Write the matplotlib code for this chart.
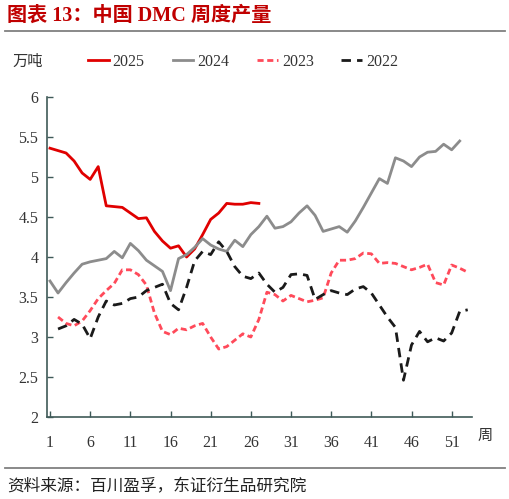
import matplotlib
matplotlib.use("Agg")
import matplotlib.pyplot as plt
from matplotlib.lines import Line2D

plt.rcParams['font.family'] = ['Liberation Serif', 'Noto Sans CJK SC', 'DejaVu Sans']

# 周度产量（万吨），按周序号
weeks_2025 = list(range(1, 28))
dmc_2025 = [5.36, 5.33, 5.30, 5.20, 5.05, 4.97, 5.13, 4.64, 4.63, 4.62,
            4.55, 4.48, 4.49, 4.32, 4.20, 4.11, 4.14, 4.00, 4.10, 4.28,
            4.47, 4.55, 4.67, 4.66, 4.66, 4.68, 4.67]

weeks_2024 = list(range(1, 53))
dmc_2024 = [3.70, 3.55, 3.68, 3.80, 3.91, 3.94, 3.96, 3.98, 4.07, 3.99,
            4.17, 4.08, 3.96, 3.89, 3.82, 3.58, 3.98, 4.03, 4.12, 4.23,
            4.15, 4.10, 4.07, 4.21, 4.13, 4.28, 4.38, 4.51, 4.36, 4.38,
            4.44, 4.55, 4.64, 4.52, 4.32, 4.35, 4.38, 4.31, 4.45, 4.62,
            4.80, 4.98, 4.92, 5.24, 5.20, 5.13, 5.25, 5.31, 5.32, 5.41,
            5.34, 5.45]

weeks_2023 = list(range(2, 54))
dmc_2023 = [3.25, 3.17, 3.14, 3.20, 3.33, 3.48, 3.58, 3.67, 3.84, 3.84,
            3.78, 3.65, 3.30, 3.07, 3.03, 3.11, 3.09, 3.14, 3.17, 3.00,
            2.85, 2.88, 2.96, 3.04, 3.00, 3.22, 3.56, 3.53, 3.45, 3.52,
            3.48, 3.44, 3.46, 3.49, 3.80, 3.96, 3.96, 3.98, 4.05, 4.04,
            3.92, 3.93, 3.92, 3.88, 3.84, 3.87, 3.91, 3.68, 3.65, 3.90,
            3.86, 3.81]

weeks_2022 = list(range(2, 54))
dmc_2022 = [3.10, 3.14, 3.22, 3.16, 2.98, 3.25, 3.45, 3.40, 3.42, 3.48,
            3.50, 3.58, 3.62, 3.66, 3.42, 3.34, 3.62, 3.95, 4.07, 4.03,
            4.19, 4.07, 3.88, 3.76, 3.73, 3.80, 3.66, 3.56, 3.62, 3.78,
            3.79, 3.77, 3.47, 3.53, 3.58, 3.55, 3.53, 3.60, 3.63, 3.55,
            3.40, 3.25, 3.12, 2.46, 2.90, 3.07, 2.94, 2.99, 2.95, 3.05,
            3.32, 3.34]

x_ticks = list(range(1, 52, 5))
y_ticks = [2, 2.5, 3, 3.5, 4, 4.5, 5, 5.5, 6]
y_labels = ['2', '2.5', '3', '3.5', '4', '4.5', '5', '5.5', '6']

axis_col = '#3f5a58'
text_col = '#333333'

fig = plt.figure(figsize=(5.10, 4.99), dpi=100)
ax = fig.add_axes([0.0916, 0.1643, 0.8334, 0.6413])

ax.plot(weeks_2025, dmc_2025, color='#e00000', lw=2.0, label='2025')
ax.plot(weeks_2024, dmc_2024, color='#8c8c8c', lw=2.0, label='2024')
ax.plot(weeks_2023, dmc_2023, color='#ff4a5a', lw=2.0, ls=(0, (2.2, 1.3)), label='2023')
ax.plot(weeks_2022, dmc_2022, color='#1a1a1a', lw=2.0, ls=(0, (3.4, 2.2)), label='2022')

ax.set_xlim(0.59, 53.5)
ax.set_ylim(2, 6)
ax.set_xticks(x_ticks)
ax.set_yticks(y_ticks)
ax.set_yticklabels(y_labels)
for s in ['top', 'right']:
    ax.spines[s].set_visible(False)
for s in ['left', 'bottom']:
    ax.spines[s].set_color(axis_col)
    ax.spines[s].set_linewidth(1.2)
ax.tick_params(axis='both', direction='in', length=4, width=1, color=axis_col,
               labelcolor=text_col, labelsize=11.5)
ax.tick_params(axis='x', pad=13)
ax.tick_params(axis='y', pad=6)

fig.legend(loc='center left', bbox_to_anchor=(0.1725, 0.8758), ncol=4, frameon=False,
           fontsize=11.5, handlelength=1.3, handletextpad=0.25, columnspacing=1.74,
           borderpad=0, borderaxespad=0, labelcolor=text_col)

fig.text(0.024, 0.8758, '万吨', fontsize=11, color=text_col, va='center', ha='left')
fig.text(0.951, 1 - 436 / 499, '周', fontsize=11, color=text_col, va='center', ha='center')

fig.text(0.014, 1 - 16 / 499, '图表 13：中国 DMC 周度产量', fontsize=14.5, fontweight='bold',
         color='#c00000', va='center', ha='left')
fig.text(0.014, 1 - 487 / 499, '资料来源：百川盈孚，东证衍生品研究院', fontsize=12,
         color='#222222', va='center', ha='left')

fig.add_artist(Line2D([0.01, 0.99], [1 - 31 / 499, 1 - 31 / 499], color='#808080', lw=1.3))
fig.add_artist(Line2D([0.01, 0.99], [1 - 468 / 499, 1 - 468 / 499], color='#808080', lw=1.3))

fig.savefig('out.png', dpi=100)
